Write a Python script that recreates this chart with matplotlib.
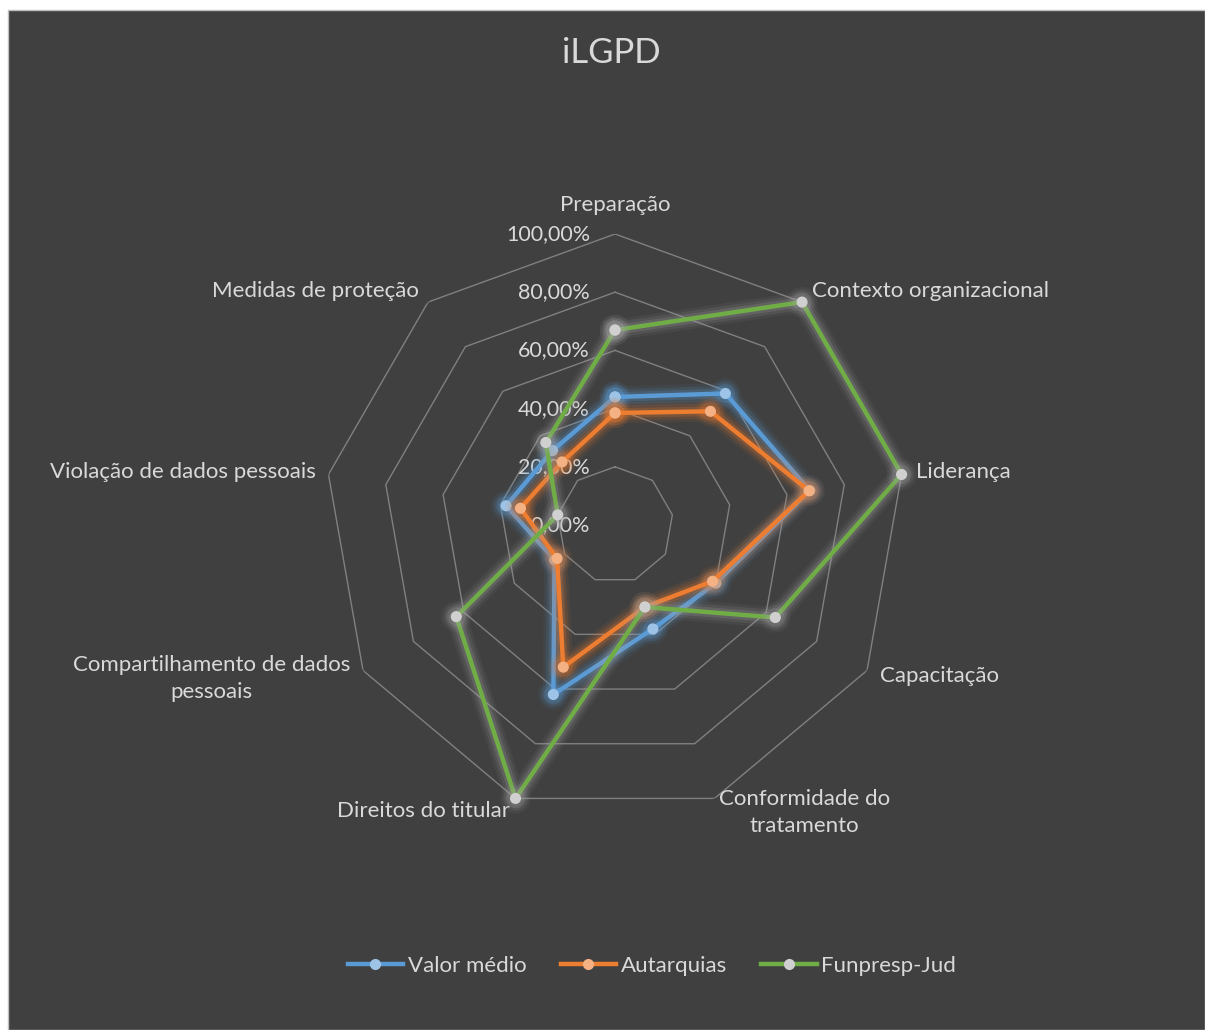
import numpy as np
import matplotlib
matplotlib.use("Agg")
import matplotlib.pyplot as plt
import matplotlib.patheffects as pe
from matplotlib.patches import Rectangle

# categories, clockwise from the top
categories = ["Preparação", "Contexto organizacional", "Liderança", "Capacitação",
              "Conformidade do\ntratamento", "Direitos do titular",
              "Compartilhamento de dados\npessoais", "Violação de dados pessoais",
              "Medidas de proteção"]

valor_medio = [0.44, 0.59, 0.68, 0.40, 0.38, 0.62, 0.24, 0.38, 0.334]
autarquias = [0.385, 0.51, 0.677, 0.387, 0.30, 0.52, 0.23, 0.33, 0.283]
funpresp_jud = [0.67, 1.00, 1.00, 0.636, 0.30, 1.00, 0.63, 0.20, 0.37]

ring_values = [0.2, 0.4, 0.6, 0.8, 1.0]
tick_values = [0.0, 0.2, 0.4, 0.6, 0.8, 1.0]
tick_labels = ["0,00%", "20,00%", "40,00%", "60,00%", "80,00%", "100,00%"]

# label offsets in pixels from the 100% vertex (dx, dy, ha)
label_offsets = [(0, 29, "center"), (10, 11, "left"), (14, 2, "left"), (13, -6, "left"),
                 (4, -14, "left"), (-6, -13, "right"), (-13, -8, "right"),
                 (-13, 2, "right"), (-9, 11, "right")]

bg = "#404040"
txt = "#d9d9d9"
plt.rcParams["font.family"] = ["Lato", "DejaVu Sans"]

fig = plt.figure(figsize=(12.05, 10.3), dpi=100, facecolor="white")
fig.patches.append(Rectangle((8 / 1205, 0), 1 - 8 / 1205, 1 - 10 / 1030,
                             transform=fig.transFigure, facecolor=bg,
                             edgecolor="#bfbfbf", linewidth=1.0, zorder=-10))

ax = fig.add_axes([0.2689, 0.2078, 0.4830, 0.5650], projection="polar")
ax.set_facecolor("none")
ax.set_theta_zero_location("N")
ax.set_theta_direction(-1)
ax.set_ylim(0, 1)
ax.grid(False)
ax.spines["polar"].set_visible(False)
ax.set_xticks([])
ax.set_yticks([])

n = len(categories)
angles = np.arange(n) * 2 * np.pi / n
closed = np.append(angles, angles[0])

for r in ring_values:
    ax.plot(closed, [r] * (n + 1), color="#808080", linewidth=1.0, zorder=1)

for v, lab in zip(tick_values, tick_labels):
    ax.annotate(lab, xy=(0, v), xytext=(-25, 0), textcoords="offset pixels",
                ha="right", va="center", fontsize=15.5, color=txt, zorder=2)

for ang, lab, (dx, dy, ha) in zip(angles, categories, label_offsets):
    ax.annotate(lab, xy=(ang, 1.0), xytext=(dx, dy), textcoords="offset pixels",
                ha=ha, va="center", multialignment="center", fontsize=16,
                color=txt, linespacing=1.45)

series = [
    ("Valor médio", valor_medio, "#5b9bd5", "#9dc3e6", "#5b9bd5"),
    ("Autarquias", autarquias, "#ed7d31", "#f4b183", "#ed7d31"),
    ("Funpresp-Jud", funpresp_jud, "#70ad47", "#d0d0d0", "#a6a6a6"),
]

for i, (name, vals, col, mcol, glow) in enumerate(series):
    v = np.append(vals, vals[0])
    line, = ax.plot(closed, v, color=col, linewidth=3.2, marker="o", markersize=7,
                    markerfacecolor=mcol, markeredgecolor=mcol, label=name,
                    zorder=5 + i, clip_on=False)
    line.set_path_effects([pe.Stroke(linewidth=15, foreground=glow, alpha=0.07),
                           pe.Stroke(linewidth=11, foreground=glow, alpha=0.12),
                           pe.Stroke(linewidth=7, foreground=glow, alpha=0.2),
                           pe.Normal()])

fig.text(0.507, 1 - 53 / 1030, "iLGPD", ha="center", va="center",
         fontsize=25, color=txt)

leg_handles = []
for name, vals, col, mcol, glow in series:
    h, = plt.plot([], [], color=col, linewidth=3.2, marker="o", markersize=7,
                  markerfacecolor=mcol, markeredgecolor=mcol, label=name)
    leg_handles.append(h)
leg = fig.legend(handles=leg_handles, loc="center", bbox_to_anchor=(0.541, 1 - 966 / 1030),
                 ncol=3, frameon=False, fontsize=16, handlelength=2.5,
                 handletextpad=0.2, columnspacing=1.55)
for t in leg.get_texts():
    t.set_color(txt)

fig.savefig("out.png", dpi=100, facecolor="white")
